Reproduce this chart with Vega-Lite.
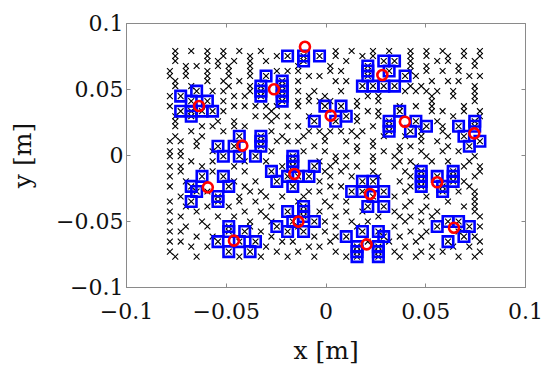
{
"$schema": "https://vega.github.io/schema/vega-lite/v6.json",
"width": 399, "height": 264,
"autosize": {"type": "none"},
"padding": {"left": 126, "top": 23, "right": 25, "bottom": 88},
"background": "white",
"config": {"view": {"stroke": "#8a8a8a", "strokeWidth": 1}, "font": "DejaVu Serif"},
"datasets": {
"pts": [
{"x":-0.0753,"y":0.0788},{"x":-0.0673,"y":0.0788},{"x":-0.0592,"y":0.0788},{"x":-0.0512,"y":0.0788},{"x":-0.0432,"y":0.0788},{"x":-0.0324,"y":0.0788},{"x":0.0051,"y":0.0788},{"x":0.0131,"y":0.0788},{"x":0.0238,"y":0.0788},{"x":0.0319,"y":0.0788},{"x":0.0426,"y":0.0788},{"x":0.0506,"y":0.0788},{"x":0.0587,"y":0.0788},{"x":0.0694,"y":0.0788},{"x":0.0774,"y":0.0788},
{"x":-0.0753,"y":0.075},{"x":-0.0592,"y":0.075},{"x":-0.0512,"y":0.075},{"x":-0.0378,"y":0.075},{"x":-0.0244,"y":0.075},{"x":-0.019,"y":0.075},{"x":-0.011,"y":0.075},{"x":-0.003,"y":0.075},{"x":0.0051,"y":0.075},{"x":0.0185,"y":0.075},{"x":0.0238,"y":0.075},{"x":0.0426,"y":0.075},{"x":0.0506,"y":0.075},{"x":0.0614,"y":0.075},{"x":0.0694,"y":0.075},{"x":0.0774,"y":0.075},
{"x":-0.0753,"y":0.0712},{"x":-0.0592,"y":0.0712},{"x":-0.0539,"y":0.0712},{"x":-0.0458,"y":0.0712},{"x":-0.0378,"y":0.0712},{"x":-0.0298,"y":0.0712},{"x":-0.011,"y":0.0712},{"x":0.0104,"y":0.0712},{"x":0.0292,"y":0.0712},{"x":0.0346,"y":0.0712},{"x":0.0426,"y":0.0712},{"x":0.056,"y":0.0712},{"x":0.0614,"y":0.0712},{"x":0.0748,"y":0.0712},
{"x":-0.07,"y":0.0674},{"x":-0.0646,"y":0.0674},{"x":-0.0539,"y":0.0674},{"x":-0.0485,"y":0.0674},{"x":-0.0378,"y":0.0674},{"x":-0.0137,"y":0.0674},{"x":0.0024,"y":0.0674},{"x":0.0212,"y":0.0674},{"x":0.0426,"y":0.0674},{"x":0.0506,"y":0.0674},{"x":0.0667,"y":0.0674},{"x":0.0748,"y":0.0674},
{"x":-0.078,"y":0.0636},{"x":-0.07,"y":0.0636},{"x":-0.0592,"y":0.0636},{"x":-0.0485,"y":0.0636},{"x":-0.0378,"y":0.0636},{"x":-0.0244,"y":0.0636},{"x":-0.019,"y":0.0636},{"x":-0.0137,"y":0.0636},{"x":0.0024,"y":0.0636},{"x":0.0078,"y":0.0636},{"x":0.0212,"y":0.0636},{"x":0.0319,"y":0.0636},{"x":0.0426,"y":0.0636},{"x":0.0506,"y":0.0636},{"x":0.0587,"y":0.0636},{"x":0.0667,"y":0.0636},
{"x":-0.078,"y":0.0598},{"x":-0.07,"y":0.0598},{"x":-0.0592,"y":0.0598},{"x":-0.0485,"y":0.0598},{"x":-0.0378,"y":0.0598},{"x":-0.0298,"y":0.0598},{"x":-0.0083,"y":0.0598},{"x":-0.003,"y":0.0598},{"x":0.0212,"y":0.0598},{"x":0.0399,"y":0.0598},{"x":0.0453,"y":0.0598},{"x":0.0721,"y":0.0598},{"x":0.0774,"y":0.0598},
{"x":-0.0753,"y":0.056},{"x":-0.0592,"y":0.056},{"x":-0.0512,"y":0.056},{"x":-0.0432,"y":0.056},{"x":-0.0217,"y":0.056},{"x":-0.0137,"y":0.056},{"x":0.0051,"y":0.056},{"x":0.0104,"y":0.056},{"x":0.0533,"y":0.056},{"x":0.0614,"y":0.056},{"x":0.0667,"y":0.056},
{"x":-0.0753,"y":0.0522},{"x":-0.0673,"y":0.0522},{"x":-0.0485,"y":0.0522},{"x":-0.0378,"y":0.0522},{"x":-0.0324,"y":0.0522},{"x":-0.0217,"y":0.0522},{"x":0.0185,"y":0.0522},{"x":0.0238,"y":0.0522},{"x":0.0292,"y":0.0522},{"x":0.0346,"y":0.0522},{"x":0.0426,"y":0.0522},{"x":0.048,"y":0.0522},{"x":0.0748,"y":0.0522},
{"x":-0.0646,"y":0.0484},{"x":-0.0566,"y":0.0484},{"x":-0.0512,"y":0.0484},{"x":-0.0378,"y":0.0484},{"x":-0.0324,"y":0.0484},{"x":-0.0217,"y":0.0484},{"x":-0.0137,"y":0.0484},{"x":-0.0056,"y":0.0484},{"x":0.0078,"y":0.0484},{"x":0.0399,"y":0.0484},{"x":0.0453,"y":0.0484},{"x":0.0506,"y":0.0484},{"x":0.056,"y":0.0484},{"x":0.064,"y":0.0484},{"x":0.0748,"y":0.0484},
{"x":-0.078,"y":0.0446},{"x":-0.0726,"y":0.0446},{"x":-0.0458,"y":0.0446},{"x":-0.0405,"y":0.0446},{"x":-0.0324,"y":0.0446},{"x":-0.0217,"y":0.0446},{"x":-0.0083,"y":0.0446},{"x":-0.0003,"y":0.0446},{"x":0.0212,"y":0.0446},{"x":0.0265,"y":0.0446},{"x":0.0533,"y":0.0446},{"x":0.064,"y":0.0446},{"x":0.0748,"y":0.0446},
{"x":-0.0673,"y":0.0408},{"x":-0.0592,"y":0.0408},{"x":-0.0512,"y":0.0408},{"x":-0.0217,"y":0.0408},{"x":-0.0137,"y":0.0408},{"x":-0.0083,"y":0.0408},{"x":-0.003,"y":0.0408},{"x":0.0024,"y":0.0408},{"x":0.0158,"y":0.0408},{"x":0.0265,"y":0.0408},{"x":0.0533,"y":0.0408},{"x":0.0748,"y":0.0408},
{"x":-0.078,"y":0.037},{"x":-0.0458,"y":0.037},{"x":-0.0405,"y":0.037},{"x":-0.0351,"y":0.037},{"x":-0.0298,"y":0.037},{"x":-0.0244,"y":0.037},{"x":-0.0137,"y":0.037},{"x":-0.0003,"y":0.037},{"x":0.0078,"y":0.037},{"x":0.0158,"y":0.037},{"x":0.0372,"y":0.037},{"x":0.0453,"y":0.037},{"x":0.0533,"y":0.037},{"x":0.0694,"y":0.037},
{"x":-0.0726,"y":0.0332},{"x":-0.0673,"y":0.0332},{"x":-0.0619,"y":0.0332},{"x":-0.0566,"y":0.0332},{"x":-0.0512,"y":0.0332},{"x":-0.0271,"y":0.0332},{"x":0.0212,"y":0.0332},{"x":0.0265,"y":0.0332},{"x":0.0372,"y":0.0332},{"x":0.0533,"y":0.0332},{"x":0.0587,"y":0.0332},{"x":0.0694,"y":0.0332},{"x":0.0774,"y":0.0332},
{"x":-0.0753,"y":0.0294},{"x":-0.0673,"y":0.0294},{"x":-0.0351,"y":0.0294},{"x":-0.0298,"y":0.0294},{"x":-0.0244,"y":0.0294},{"x":-0.019,"y":0.0294},{"x":-0.0083,"y":0.0294},{"x":0.0104,"y":0.0294},{"x":0.0158,"y":0.0294},{"x":0.0265,"y":0.0294},{"x":0.064,"y":0.0294},{"x":0.0774,"y":0.0294},
{"x":-0.0753,"y":0.0256},{"x":-0.0539,"y":0.0256},{"x":-0.0458,"y":0.0256},{"x":-0.0271,"y":0.0256},{"x":-0.0056,"y":0.0256},{"x":0.0051,"y":0.0256},{"x":0.0158,"y":0.0256},{"x":0.0319,"y":0.0256},{"x":0.0453,"y":0.0256},{"x":0.056,"y":0.0256},{"x":0.0748,"y":0.0256},
{"x":-0.0753,"y":0.0218},{"x":-0.0619,"y":0.0218},{"x":-0.0566,"y":0.0218},{"x":-0.0458,"y":0.0218},{"x":-0.0405,"y":0.0218},{"x":-0.019,"y":0.0218},{"x":-0.0137,"y":0.0218},{"x":0.0238,"y":0.0218},{"x":0.0319,"y":0.0218},{"x":0.0506,"y":0.0218},{"x":0.0587,"y":0.0218},{"x":0.0667,"y":0.0218},{"x":0.0748,"y":0.0218},
{"x":-0.0673,"y":0.018},{"x":-0.0512,"y":0.018},{"x":-0.0271,"y":0.018},{"x":-0.0083,"y":0.018},{"x":-0.003,"y":0.018},{"x":0.0024,"y":0.018},{"x":0.0078,"y":0.018},{"x":0.0131,"y":0.018},{"x":0.0185,"y":0.018},{"x":0.0319,"y":0.018},{"x":0.0426,"y":0.018},{"x":0.048,"y":0.018},{"x":0.0587,"y":0.018},
{"x":-0.0753,"y":0.0142},{"x":-0.0619,"y":0.0142},{"x":-0.0432,"y":0.0142},{"x":-0.0324,"y":0.0142},{"x":-0.0217,"y":0.0142},{"x":-0.011,"y":0.0142},{"x":-0.0003,"y":0.0142},{"x":0.0158,"y":0.0142},{"x":0.0292,"y":0.0142},{"x":0.0399,"y":0.0142},{"x":0.048,"y":0.0142},{"x":0.0614,"y":0.0142},{"x":0.0694,"y":0.0142},
{"x":-0.078,"y":0.0104},{"x":-0.0726,"y":0.0104},{"x":-0.0646,"y":0.0104},{"x":-0.0324,"y":0.0104},{"x":-0.0244,"y":0.0104},{"x":-0.019,"y":0.0104},{"x":-0.0137,"y":0.0104},{"x":-0.0003,"y":0.0104},{"x":0.0104,"y":0.0104},{"x":0.0238,"y":0.0104},{"x":0.048,"y":0.0104},{"x":0.056,"y":0.0104},{"x":0.0774,"y":0.0104},
{"x":-0.0646,"y":0.0066},{"x":-0.0539,"y":0.0066},{"x":-0.0458,"y":0.0066},{"x":-0.0324,"y":0.0066},{"x":-0.0056,"y":0.0066},{"x":0.0158,"y":0.0066},{"x":0.0238,"y":0.0066},{"x":0.0372,"y":0.0066},{"x":0.0426,"y":0.0066},{"x":0.0614,"y":0.0066},{"x":0.0721,"y":0.0066},
{"x":-0.078,"y":0.0028},{"x":-0.0726,"y":0.0028},{"x":-0.0566,"y":0.0028},{"x":-0.0271,"y":0.0028},{"x":-0.011,"y":0.0028},{"x":-0.0003,"y":0.0028},{"x":0.0158,"y":0.0028},{"x":0.0292,"y":0.0028},{"x":0.0372,"y":0.0028},{"x":0.048,"y":0.0028},{"x":0.0587,"y":0.0028},{"x":0.0667,"y":0.0028},
{"x":-0.078,"y":-0.001},{"x":-0.0726,"y":-0.001},{"x":-0.0512,"y":-0.001},{"x":-0.0432,"y":-0.001},{"x":-0.0351,"y":-0.001},{"x":-0.0164,"y":-0.001},{"x":0.0051,"y":-0.001},{"x":0.0104,"y":-0.001},{"x":0.0238,"y":-0.001},{"x":0.0346,"y":-0.001},{"x":0.0506,"y":-0.001},{"x":0.0748,"y":-0.001},
{"x":-0.0673,"y":-0.0048},{"x":-0.0566,"y":-0.0048},{"x":-0.0405,"y":-0.0048},{"x":-0.0298,"y":-0.0048},{"x":-0.0164,"y":-0.0048},{"x":-0.003,"y":-0.0048},{"x":0.0051,"y":-0.0048},{"x":0.0238,"y":-0.0048},{"x":0.0372,"y":-0.0048},{"x":0.0426,"y":-0.0048},{"x":0.0533,"y":-0.0048},{"x":0.0614,"y":-0.0048},{"x":0.0721,"y":-0.0048},
{"x":-0.078,"y":-0.0086},{"x":-0.0726,"y":-0.0086},{"x":-0.0619,"y":-0.0086},{"x":-0.0458,"y":-0.0086},{"x":-0.0217,"y":-0.0086},{"x":-0.0164,"y":-0.0086},{"x":-0.0056,"y":-0.0086},{"x":0.0024,"y":-0.0086},{"x":0.0104,"y":-0.0086},{"x":0.0158,"y":-0.0086},{"x":0.0346,"y":-0.0086},{"x":0.0453,"y":-0.0086},{"x":0.0694,"y":-0.0086},{"x":0.0774,"y":-0.0086},
{"x":-0.0726,"y":-0.0124},{"x":-0.0566,"y":-0.0124},{"x":-0.0405,"y":-0.0124},{"x":-0.0271,"y":-0.0124},{"x":-0.0003,"y":-0.0124},{"x":0.0078,"y":-0.0124},{"x":0.0238,"y":-0.0124},{"x":0.0399,"y":-0.0124},{"x":0.048,"y":-0.0124},{"x":0.064,"y":-0.0124},{"x":0.0774,"y":-0.0124},
{"x":-0.078,"y":-0.0162},{"x":-0.0619,"y":-0.0162},{"x":-0.0512,"y":-0.0162},{"x":-0.019,"y":-0.0162},{"x":-0.0137,"y":-0.0162},{"x":-0.0083,"y":-0.0162},{"x":0.0024,"y":-0.0162},{"x":0.0131,"y":-0.0162},{"x":0.0265,"y":-0.0162},{"x":0.0426,"y":-0.0162},{"x":0.048,"y":-0.0162},{"x":0.056,"y":-0.0162},{"x":0.064,"y":-0.0162},{"x":0.0748,"y":-0.0162},
{"x":-0.07,"y":-0.02},{"x":-0.0458,"y":-0.02},{"x":-0.0351,"y":-0.02},{"x":-0.0244,"y":-0.02},{"x":-0.003,"y":-0.02},{"x":0.0185,"y":-0.02},{"x":0.0238,"y":-0.02},{"x":0.0372,"y":-0.02},{"x":0.048,"y":-0.02},{"x":0.064,"y":-0.02},{"x":0.0694,"y":-0.02},
{"x":-0.078,"y":-0.0238},{"x":-0.0673,"y":-0.0238},{"x":-0.0485,"y":-0.0238},{"x":-0.0405,"y":-0.0238},{"x":-0.0164,"y":-0.0238},{"x":0.0024,"y":-0.0238},{"x":0.0078,"y":-0.0238},{"x":0.0426,"y":-0.0238},{"x":0.048,"y":-0.0238},{"x":0.0587,"y":-0.0238},{"x":0.0721,"y":-0.0238},
{"x":-0.0646,"y":-0.0276},{"x":-0.0592,"y":-0.0276},{"x":-0.0378,"y":-0.0276},{"x":-0.0324,"y":-0.0276},{"x":-0.0083,"y":-0.0276},{"x":-0.003,"y":-0.0276},{"x":0.0131,"y":-0.0276},{"x":0.0185,"y":-0.0276},{"x":0.0292,"y":-0.0276},{"x":0.0399,"y":-0.0276},{"x":0.0587,"y":-0.0276},{"x":0.0667,"y":-0.0276},{"x":0.0748,"y":-0.0276},
{"x":-0.0726,"y":-0.0314},{"x":-0.0539,"y":-0.0314},{"x":-0.0432,"y":-0.0314},{"x":-0.0298,"y":-0.0314},{"x":-0.0217,"y":-0.0314},{"x":-0.011,"y":-0.0314},{"x":0.0051,"y":-0.0314},{"x":0.0238,"y":-0.0314},{"x":0.0346,"y":-0.0314},{"x":0.0506,"y":-0.0314},{"x":0.0748,"y":-0.0314},
{"x":-0.078,"y":-0.0352},{"x":-0.0673,"y":-0.0352},{"x":-0.0539,"y":-0.0352},{"x":-0.0432,"y":-0.0352},{"x":-0.0351,"y":-0.0352},{"x":-0.0137,"y":-0.0352},{"x":-0.0003,"y":-0.0352},{"x":0.0104,"y":-0.0352},{"x":0.0426,"y":-0.0352},{"x":0.0614,"y":-0.0352},{"x":0.0748,"y":-0.0352},
{"x":-0.07,"y":-0.039},{"x":-0.0592,"y":-0.039},{"x":-0.0485,"y":-0.039},{"x":-0.0271,"y":-0.039},{"x":-0.011,"y":-0.039},{"x":0.0024,"y":-0.039},{"x":0.0212,"y":-0.039},{"x":0.0292,"y":-0.039},{"x":0.0399,"y":-0.039},{"x":0.0506,"y":-0.039},{"x":0.0694,"y":-0.039},{"x":0.0748,"y":-0.039},
{"x":-0.078,"y":-0.0428},{"x":-0.0646,"y":-0.0428},{"x":-0.0405,"y":-0.0428},{"x":-0.0324,"y":-0.0428},{"x":-0.019,"y":-0.0428},{"x":-0.011,"y":-0.0428},{"x":-0.003,"y":-0.0428},{"x":0.0104,"y":-0.0428},{"x":0.0185,"y":-0.0428},{"x":0.0346,"y":-0.0428},{"x":0.048,"y":-0.0428},{"x":0.056,"y":-0.0428},{"x":0.0748,"y":-0.0428},
{"x":-0.0726,"y":-0.0466},{"x":-0.0539,"y":-0.0466},{"x":-0.0458,"y":-0.0466},{"x":-0.0298,"y":-0.0466},{"x":-0.011,"y":-0.0466},{"x":0.0051,"y":-0.0466},{"x":0.0265,"y":-0.0466},{"x":0.0372,"y":-0.0466},{"x":0.0426,"y":-0.0466},{"x":0.0533,"y":-0.0466},{"x":0.0774,"y":-0.0466},
{"x":-0.078,"y":-0.0504},{"x":-0.0619,"y":-0.0504},{"x":-0.0378,"y":-0.0504},{"x":-0.0271,"y":-0.0504},{"x":-0.0164,"y":-0.0504},{"x":-0.0056,"y":-0.0504},{"x":-0.0003,"y":-0.0504},{"x":0.0131,"y":-0.0504},{"x":0.0212,"y":-0.0504},{"x":0.0399,"y":-0.0504},{"x":0.048,"y":-0.0504},{"x":0.0614,"y":-0.0504},{"x":0.0667,"y":-0.0504},
{"x":-0.07,"y":-0.0542},{"x":-0.0592,"y":-0.0542},{"x":-0.0485,"y":-0.0542},{"x":-0.0378,"y":-0.0542},{"x":-0.0244,"y":-0.0542},{"x":-0.0137,"y":-0.0542},{"x":0.0051,"y":-0.0542},{"x":0.0158,"y":-0.0542},{"x":0.0346,"y":-0.0542},{"x":0.056,"y":-0.0542},{"x":0.0721,"y":-0.0542},{"x":0.0774,"y":-0.0542},
{"x":-0.078,"y":-0.058},{"x":-0.0726,"y":-0.058},{"x":-0.0485,"y":-0.058},{"x":-0.0405,"y":-0.058},{"x":-0.0324,"y":-0.058},{"x":-0.019,"y":-0.058},{"x":-0.011,"y":-0.058},{"x":-0.0003,"y":-0.058},{"x":0.0185,"y":-0.058},{"x":0.0265,"y":-0.058},{"x":0.0426,"y":-0.058},{"x":0.0506,"y":-0.058},{"x":0.0667,"y":-0.058},
{"x":-0.0646,"y":-0.0618},{"x":-0.0566,"y":-0.0618},{"x":-0.0271,"y":-0.0618},{"x":-0.0056,"y":-0.0618},{"x":0.0051,"y":-0.0618},{"x":0.0104,"y":-0.0618},{"x":0.0292,"y":-0.0618},{"x":0.0372,"y":-0.0618},{"x":0.048,"y":-0.0618},{"x":0.0694,"y":-0.0618},{"x":0.0748,"y":-0.0618},
{"x":-0.078,"y":-0.0656},{"x":-0.0726,"y":-0.0656},{"x":-0.0539,"y":-0.0656},{"x":-0.0432,"y":-0.0656},{"x":-0.0351,"y":-0.0656},{"x":-0.0217,"y":-0.0656},{"x":-0.0164,"y":-0.0656},{"x":0.0024,"y":-0.0656},{"x":0.0212,"y":-0.0656},{"x":0.0319,"y":-0.0656},{"x":0.0453,"y":-0.0656},{"x":0.0614,"y":-0.0656},{"x":0.0774,"y":-0.0656},
{"x":-0.0673,"y":-0.0694},{"x":-0.0592,"y":-0.0694},{"x":-0.0298,"y":-0.0694},{"x":-0.0083,"y":-0.0694},{"x":-0.003,"y":-0.0694},{"x":0.0158,"y":-0.0694},{"x":0.0265,"y":-0.0694},{"x":0.0399,"y":-0.0694},{"x":0.0533,"y":-0.0694},{"x":0.064,"y":-0.0694},{"x":0.0721,"y":-0.0694},
{"x":-0.078,"y":-0.0732},{"x":-0.0485,"y":-0.0732},{"x":-0.0378,"y":-0.0732},{"x":-0.0244,"y":-0.0732},{"x":-0.0137,"y":-0.0732},{"x":0.0051,"y":-0.0732},{"x":0.0158,"y":-0.0732},{"x":0.0265,"y":-0.0732},{"x":0.0346,"y":-0.0732},{"x":0.048,"y":-0.0732},{"x":0.0587,"y":-0.0732},{"x":0.0774,"y":-0.0732},
{"x":-0.0753,"y":-0.077},{"x":-0.0646,"y":-0.077},{"x":-0.0432,"y":-0.077},{"x":-0.0324,"y":-0.077},{"x":-0.019,"y":-0.077},{"x":-0.0056,"y":-0.077},{"x":0.0104,"y":-0.077},{"x":0.0158,"y":-0.077},{"x":0.0265,"y":-0.077},{"x":0.0372,"y":-0.077},{"x":0.0453,"y":-0.077},{"x":0.0533,"y":-0.077},{"x":0.0667,"y":-0.077},{"x":0.0748,"y":-0.077}
],
"sq": [
{"x":-0.019,"y":0.075},{"x":-0.011,"y":0.075},{"x":-0.011,"y":0.0712},{"x":-0.003,"y":0.075},
{"x":-0.0298,"y":0.0598},{"x":-0.0324,"y":0.0522},{"x":-0.0324,"y":0.0484},{"x":-0.0324,"y":0.0446},{"x":-0.0217,"y":0.056},{"x":-0.0217,"y":0.0522},{"x":-0.0217,"y":0.0484},{"x":-0.0217,"y":0.0446},{"x":-0.0217,"y":0.0408},
{"x":-0.0646,"y":0.0484},{"x":-0.0726,"y":0.0446},{"x":-0.0592,"y":0.0408},{"x":-0.0673,"y":0.0408},{"x":-0.0726,"y":0.0332},{"x":-0.0673,"y":0.0332},{"x":-0.0619,"y":0.0332},{"x":-0.0566,"y":0.0332},{"x":-0.0673,"y":0.0294},
{"x":0.0212,"y":0.0674},{"x":0.0212,"y":0.0636},{"x":0.0212,"y":0.0598},{"x":0.0292,"y":0.0712},{"x":0.0346,"y":0.0712},{"x":0.0319,"y":0.0636},{"x":0.0399,"y":0.0598},{"x":0.0185,"y":0.0522},{"x":0.0238,"y":0.0522},{"x":0.0292,"y":0.0522},{"x":0.0346,"y":0.0522},
{"x":-0.0003,"y":0.037},{"x":0.0078,"y":0.037},{"x":0.0104,"y":0.0294},{"x":-0.0056,"y":0.0256},{"x":0.0051,"y":0.0256},
{"x":0.0319,"y":0.0256},{"x":0.0319,"y":0.0218},{"x":0.0319,"y":0.018},{"x":0.0372,"y":0.0332},{"x":0.0453,"y":0.0256},{"x":0.0426,"y":0.018},{"x":0.0506,"y":0.0218},
{"x":0.0667,"y":0.0218},{"x":0.0748,"y":0.0256},{"x":0.0748,"y":0.0218},{"x":0.0694,"y":0.0142},{"x":0.0774,"y":0.0104},{"x":0.0721,"y":0.0066},
{"x":-0.0539,"y":0.0066},{"x":-0.0512,"y":-0.001},{"x":-0.0458,"y":0.0066},{"x":-0.0432,"y":0.0142},{"x":-0.0432,"y":-0.001},{"x":-0.0351,"y":-0.001},{"x":-0.0324,"y":0.0142},{"x":-0.0324,"y":0.0104},{"x":-0.0324,"y":0.0066},
{"x":-0.0164,"y":-0.001},{"x":-0.0164,"y":-0.0048},{"x":-0.0164,"y":-0.0086},{"x":-0.0271,"y":-0.0124},{"x":-0.0244,"y":-0.02},{"x":-0.0164,"y":-0.0238},{"x":-0.0083,"y":-0.0162},{"x":-0.0056,"y":-0.0086},{"x":-0.019,"y":-0.0162},{"x":-0.0137,"y":-0.0162},
{"x":-0.0673,"y":-0.0238},{"x":-0.0619,"y":-0.0162},{"x":-0.0512,"y":-0.0162},{"x":-0.0485,"y":-0.0238},{"x":-0.0673,"y":-0.0352},{"x":-0.0646,"y":-0.0276},{"x":-0.0539,"y":-0.0314},{"x":-0.0539,"y":-0.0352},
{"x":0.048,"y":-0.0124},{"x":0.048,"y":-0.0162},{"x":0.048,"y":-0.02},{"x":0.048,"y":-0.0238},{"x":0.056,"y":-0.0162},{"x":0.0587,"y":-0.0238},{"x":0.0587,"y":-0.0276},{"x":0.064,"y":-0.0124},{"x":0.064,"y":-0.0162},{"x":0.064,"y":-0.02},
{"x":0.0131,"y":-0.0276},{"x":0.0185,"y":-0.02},{"x":0.0238,"y":-0.02},{"x":0.0185,"y":-0.0276},{"x":0.0238,"y":-0.0314},{"x":0.0292,"y":-0.0276},{"x":0.0212,"y":-0.039},{"x":0.0292,"y":-0.039},
{"x":-0.019,"y":-0.0428},{"x":-0.0244,"y":-0.0542},{"x":-0.019,"y":-0.058},{"x":-0.011,"y":-0.039},{"x":-0.011,"y":-0.0428},{"x":-0.011,"y":-0.0466},{"x":-0.011,"y":-0.058},{"x":-0.0056,"y":-0.0504},{"x":-0.0164,"y":-0.0504},
{"x":0.0614,"y":-0.0504},{"x":0.0667,"y":-0.0504},{"x":0.056,"y":-0.0542},{"x":0.0721,"y":-0.0542},{"x":0.0614,"y":-0.0656},{"x":0.0694,"y":-0.0618},
{"x":-0.0485,"y":-0.0542},{"x":-0.0485,"y":-0.058},{"x":-0.0405,"y":-0.058},{"x":-0.0539,"y":-0.0656},{"x":-0.0351,"y":-0.0656},{"x":-0.0485,"y":-0.0732},{"x":-0.0378,"y":-0.0732},{"x":-0.0432,"y":-0.0656},
{"x":0.0104,"y":-0.0618},{"x":0.0185,"y":-0.058},{"x":0.0265,"y":-0.058},{"x":0.0292,"y":-0.0618},{"x":0.0158,"y":-0.0694},{"x":0.0158,"y":-0.0732},{"x":0.0158,"y":-0.077},{"x":0.0265,"y":-0.0694},{"x":0.0265,"y":-0.0732},{"x":0.0265,"y":-0.077}
],
"ctr": [
{"x":-0.0103,"y":0.082},{"x":-0.0258,"y":0.0498},{"x":-0.0634,"y":0.0371},{"x":0.0285,"y":0.0606},{"x":0.0026,"y":0.0298},{"x":0.0398,"y":0.0252},{"x":0.0746,"y":0.0164},{"x":-0.0417,"y":0.0071},{"x":-0.0156,"y":-0.0144},{"x":-0.059,"y":-0.0245},{"x":0.056,"y":-0.0207},{"x":0.0223,"y":-0.0295},{"x":-0.0136,"y":-0.0505},{"x":0.0644,"y":-0.0551},{"x":-0.0459,"y":-0.0649},{"x":0.0206,"y":-0.0677}
]
},
"layer": [
{"data": {"name": "pts"},
 "mark": {"type": "point", "shape": "M-1,-1L1,1M1,-1L-1,1", "size": 34, "filled": false, "stroke": "#000000", "strokeWidth": 1.1, "opacity": 1},
 "encoding": {
  "x": {"field": "x", "type": "quantitative", "scale": {"domain": [-0.1, 0.1], "nice": false, "zero": false},
   "axis": {"orient": "bottom", "values": [-0.1, -0.05, 0, 0.05, 0.1], "format": "~g", "grid": false, "domainColor": "#8a8a8a", "tickColor": "#8a8a8a", "tickSize": -4, "labelFont": "DejaVu Serif", "labelFontSize": 22, "labelColor": "#111111", "labelPadding": 18, "labelFlush": false, "labelOverlap": false, "title": "x [m]", "titleFont": "DejaVu Serif", "titleFontSize": 25, "titleFontWeight": "normal", "titleColor": "#111111", "titleX": 199.5, "titleY": 71, "titleAlign": "center", "titleBaseline": "alphabetic"}},
  "y": {"field": "y", "type": "quantitative", "scale": {"domain": [-0.1, 0.1], "nice": false, "zero": false},
   "axis": {"orient": "left", "values": [-0.1, -0.05, 0, 0.05, 0.1], "format": "~g", "grid": false, "domainColor": "#8a8a8a", "tickColor": "#8a8a8a", "tickSize": -4, "labelFont": "DejaVu Serif", "labelFontSize": 22, "labelColor": "#111111", "labelPadding": 7, "labelFlush": false, "labelOverlap": false, "title": "y [m]", "titleFont": "DejaVu Serif", "titleFontSize": 25, "titleFontWeight": "normal", "titleColor": "#111111", "titleX": -96, "titleY": 132, "titleAngle": -90, "titleAlign": "center", "titleBaseline": "alphabetic"}}
 }},
{"data": {"name": "sq"},
 "mark": {"type": "point", "shape": "square", "size": 110, "filled": false, "stroke": "#0000ff", "strokeWidth": 2.6, "opacity": 1},
 "encoding": {
  "x": {"field": "x", "type": "quantitative", "scale": {"domain": [-0.1, 0.1], "nice": false, "zero": false},
   "axis": {"orient": "top", "values": [-0.1, -0.05, 0, 0.05, 0.1], "labels": false, "title": null, "grid": false, "domain": false, "tickColor": "#8a8a8a", "tickSize": -4}},
  "y": {"field": "y", "type": "quantitative", "scale": {"domain": [-0.1, 0.1], "nice": false, "zero": false},
   "axis": {"orient": "right", "values": [-0.1, -0.05, 0, 0.05, 0.1], "labels": false, "title": null, "grid": false, "domain": false, "tickColor": "#8a8a8a", "tickSize": -4}}
 }},
{"data": {"name": "ctr"},
 "mark": {"type": "point", "shape": "circle", "size": 100, "filled": false, "stroke": "#ff0000", "strokeWidth": 2.6, "opacity": 1},
 "encoding": {
  "x": {"field": "x", "type": "quantitative", "scale": {"domain": [-0.1, 0.1], "nice": false, "zero": false}, "axis": null},
  "y": {"field": "y", "type": "quantitative", "scale": {"domain": [-0.1, 0.1], "nice": false, "zero": false}, "axis": null}
 }}
],
"resolve": {"axis": {"x": "independent", "y": "independent"}}
}
